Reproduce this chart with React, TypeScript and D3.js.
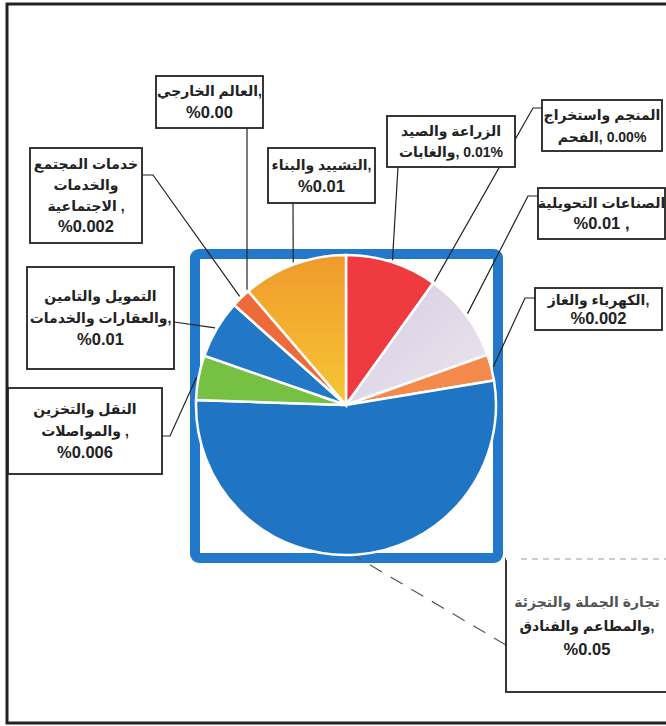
import { useMemo } from 'react'
import * as d3 from 'd3'

// sectors, clockwise from 12 o'clock
const categories = [
  'الزراعة والصيد والغابات',
  'المنجم واستخراج الفحم',
  'الصناعات التحويلية',
  'الكهرباء والغاز',
  'تجارة الجملة والتجزئة والمطاعم والفنادق',
  'النقل والتخزين والمواصلات',
  'التمويل والتامين والعقارات والخدمات',
  'خدمات المجتمع والخدمات الاجتماعية',
  'العالم الخارجي',
  'التشييد والبناء',
]

// shares
const shares = [0.0099, 0, 0.0097, 0.0028, 0.0532, 0.0048, 0.0063, 0.0021, 0, 0.0113]

// label text as printed in the boxes (\u200E keeps the number left-to-right after the Arabic word)
const labelLines = [
  ['الزراعة والصيد', 'والغابات,\u200E 0.01%'],
  ['المنجم واستخراج', 'الفحم,\u200E 0.00%'],
  ['الصناعات التحويلية', '%0.01 ,'],
  ['الكهرباء والغاز,', '%0.002'],
  ['تجارة الجملة والتجزئة', 'والمطاعم والفنادق,', '%0.05'],
  ['النقل والتخزين', 'والمواصلات ,', '%0.006'],
  ['التمويل والتامين', 'والعقارات والخدمات,', '%0.01'],
  ['خدمات المجتمع', 'والخدمات', 'الاجتماعية ,', '%0.002'],
  ['العالم الخارجي,', '%0.00'],
  ['التشييد والبناء,', '%0.01'],
]

const colors = [
  '#ef3b3f', '#999999', 'url(#lavGrad)', '#f38a4c', '#1f74c4',
  '#76c043', '#2277c6', '#ee6a3a', '#999999', 'url(#yellowGrad)',
]

const W = 666
const H = 726
const cx = 346
const cy = 405
const R = 150

// label boxes: [x, y, w, h], line start on box, optional elbow
const boxes = [
  { box: [387, 116, 128, 51], from: [398, 167], elbow: null, lh: 21 },
  { box: [542, 100, 120, 51], from: [542, 108], elbow: [533, 108], lh: 22 },
  { box: [538, 188, 127, 51], from: [538, 196], elbow: [528, 196], lh: 21 },
  { box: [535, 288, 127, 42], from: [535, 298], elbow: [525, 298], lh: 19 },
  { box: [506, 559, 162, 133], from: [506, 645], elbow: null, lh: 24, faded: true },
  { box: [8, 388, 154, 86], from: [162, 436], elbow: [170, 436], lh: 22 },
  { box: [27, 267, 147, 102], from: [174, 322], elbow: null, lh: 22 },
  { box: [30, 148, 112, 95], from: [142, 175], elbow: [153, 175], lh: 21 },
  { box: [156, 76, 107, 52], from: [247, 128], elbow: null, lh: 22 },
  { box: [268, 148, 107, 55], from: [293, 203], elbow: null, lh: 22 },
]

const LRM = '\u200E'

export default function App() {
  const arcs = useMemo(() => d3.pie<number>().sort(null).value(d => d)(shares), [])
  const arc = d3.arc<d3.PieArcDatum<number>>().innerRadius(0).outerRadius(R)

  const font = "'Liberation Sans', Arial, 'DejaVu Sans', sans-serif"

  return (
    <svg width={W} height={H} style={{ position: 'absolute', left: 0, top: 0, background: '#fff' }}>
      <defs>
        <linearGradient id="yellowGrad" x1="0" y1="0" x2="0" y2="1">
          <stop offset="0%" stopColor="#ef9a2c" />
          <stop offset="100%" stopColor="#f7c633" />
        </linearGradient>
        <linearGradient id="lavGrad" x1="0" y1="0" x2="1" y2="1">
          <stop offset="0%" stopColor="#d6cbe0" />
          <stop offset="100%" stopColor="#ece7ef" />
        </linearGradient>
      </defs>

      {/* outer page frame */}
      <rect x={7} y={4} width={W + 10} height={719} fill="none" stroke="#222" strokeWidth={3} />

      {/* blue square behind pie */}
      <rect x={195} y={254} width={303} height={304} rx={4} fill="none" stroke="#2379c9" strokeWidth={10} />

      <g transform={`translate(${cx},${cy})`}>
        {arcs.map((a, i) =>
          a.value > 0 ? (
            <path key={categories[i]} d={arc(a) || ''} fill={colors[i]} stroke="#fff" strokeWidth={2.5} />
          ) : null
        )}
      </g>

      {/* leader lines */}
      {arcs.map((a, i) => {
        const b = boxes[i]
        const mid = (a.startAngle + a.endAngle) / 2
        const ex = cx + Math.sin(mid) * (R + 2)
        const ey = cy - Math.cos(mid) * (R + 2)
        const pts = [b.from, ...(b.elbow ? [b.elbow] : []), [ex, ey]]
        return (
          <polyline key={'l' + i} points={pts.map(p => p.join(',')).join(' ')} fill="none"
            stroke={b.faded ? '#555' : '#222'} strokeWidth={1.2}
            strokeDasharray={b.faded ? '14,10' : undefined} />
        )
      })}

      {/* label boxes */}
      {boxes.map((b, i) => {
        const [x, y, w, h] = b.box
        const lines = labelLines[i]
        const y0 = y + h / 2 - ((lines.length - 1) * b.lh) / 2 + 5
        return (
          <g key={'b' + i}>
            <rect x={x} y={y} width={w} height={h} fill="#fff" stroke="#222" strokeWidth={1.8} />
            {b.faded && <line x1={x} y1={y} x2={x + w} y2={y} stroke="#fff" strokeWidth={2.5} />}
            {b.faded && <line x1={x + 15} y1={y} x2={x + w} y2={y} stroke="#999" strokeWidth={1} strokeDasharray="6,5" />}
            {lines.map((t, j) => (
              <text key={j} x={x + w / 2} y={y0 + j * b.lh} textAnchor="middle" fontFamily={font}
                fontWeight="bold" fontSize={t.startsWith('%') ? 16.5 : 14}
                fill={b.faded && j === 0 ? '#555' : '#222'}>
                {LRM + t + LRM}
              </text>
            ))}
          </g>
        )
      })}
    </svg>
  )
}
